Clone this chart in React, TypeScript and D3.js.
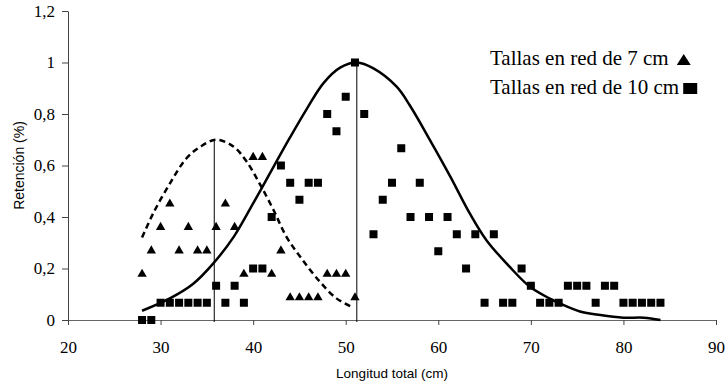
import { useEffect, useRef } from 'react'
import * as d3 from 'd3'

// Tallas en red de 7 cm (triangles)
const LEN_7 = [28, 29, 30, 31, 32, 33, 34, 35, 36, 37, 38, 39, 40, 41, 42, 43, 44, 45, 46, 47, 48, 49, 50, 51]
const RET_7 = [0.182, 0.273, 0.364, 0.455, 0.273, 0.364, 0.273, 0.273, 0.364, 0.455, 0.364, 0.182, 0.636, 0.636, 0.182, 0.273, 0.091, 0.091, 0.091, 0.091, 0.182, 0.182, 0.182, 0.091]

// Tallas en red de 10 cm (squares)
const LEN_10 = [28, 29, 30, 31, 32, 33, 34, 35, 36, 37, 38, 39, 40, 41, 42, 43, 44, 45, 46, 47, 48, 49, 50, 51, 52, 53, 54, 55, 56, 57, 58, 59, 60, 61, 62, 63, 64, 65, 66, 67, 68, 69, 70, 71, 72, 73, 74, 75, 76, 77, 78, 79, 80, 81, 82, 83, 84]
const RET_10 = [0, 0, 0.067, 0.067, 0.067, 0.067, 0.067, 0.067, 0.133, 0.067, 0.133, 0.067, 0.2, 0.2, 0.4, 0.6, 0.533, 0.467, 0.533, 0.533, 0.8, 0.733, 0.867, 1, 0.8, 0.333, 0.467, 0.533, 0.667, 0.4, 0.533, 0.4, 0.267, 0.4, 0.333, 0.2, 0.333, 0.067, 0.333, 0.067, 0.067, 0.2, 0.133, 0.067, 0.067, 0.067, 0.133, 0.133, 0.133, 0.067, 0.133, 0.133, 0.067, 0.067, 0.067, 0.067, 0.067]

// fitted selectivity curves
const CURVE_7_X = [28.0, 29.2, 31.0, 32.8, 34.3, 36.0, 37.9, 39.3, 40.7, 42.2, 43.6, 45.2, 47.2, 49.0, 50.6]
const CURVE_7_Y = [0.32, 0.414, 0.53, 0.628, 0.673, 0.70, 0.673, 0.615, 0.53, 0.427, 0.323, 0.24, 0.149, 0.084, 0.052]
const CURVE_10_X = [28.0, 31.0, 33.5, 35.7, 37.9, 40.0, 42.2, 44.0, 45.8, 47.6, 49.4, 51.2, 53.0, 55.5, 56.9, 59.1, 61.3, 63.4, 65.2, 67.7, 69.9, 72.0, 73.1, 75.3, 77.5, 80.0, 82.2, 84.0]
const CURVE_10_Y = [0.036, 0.084, 0.14, 0.22, 0.323, 0.453, 0.595, 0.71, 0.82, 0.92, 0.98, 1.0, 0.977, 0.906, 0.835, 0.699, 0.557, 0.414, 0.31, 0.207, 0.129, 0.084, 0.065, 0.033, 0.019, 0.009, 0.009, 0.0]

// optimum lengths (vertical markers)
const OPT_X = [35.8, 51.2]
const OPT_Y = [0.70, 1.0]

const X_TICKS = [20, 30, 40, 50, 60, 70, 80, 90]
const Y_TICKS = [0, 0.2, 0.4, 0.6, 0.8, 1, 1.2]
const LEGEND = ['Tallas en red de 7 cm', 'Tallas en red de 10 cm']

const SERIF = '"Liberation Serif", "Times New Roman", serif'
const SANS = '"Liberation Sans", Arial, sans-serif'

export default function App() {
  const svgRef = useRef<SVGSVGElement>(null)

  useEffect(() => {
    if (!svgRef.current) return
    const svg = d3.select(svgRef.current)
    svg.selectAll('*').remove()

    const x = d3.scaleLinear().domain([20, 90]).range([68, 716])
    const y = d3.scaleLinear().domain([0, 1.2]).range([320, 11])
    const fmt = (v: number) => String(v).replace('.', ',')

    // axes
    const xAxis = svg.append('g')
      .attr('transform', `translate(0,${y(0)})`)
      .call(d3.axisBottom(x).tickValues(X_TICKS).tickSize(5).tickSizeOuter(0).tickPadding(16))
    xAxis.attr('font-family', SERIF).attr('font-size', 17)
    xAxis.select('.domain').attr('stroke', '#666')
    xAxis.selectAll('line').attr('stroke', '#444')
    xAxis.selectAll('text')
      .style('font-family', SERIF).style('font-size', '17px').attr('fill', '#000')

    const yAxis = svg.append('g')
      .attr('transform', `translate(${x(20)},0)`)
      .call(d3.axisLeft(y).tickValues(Y_TICKS).tickFormat((d) => fmt(d as number)).tickSize(6).tickSizeOuter(0).tickPadding(7))
    yAxis.attr('font-family', SERIF).attr('font-size', 17)
    yAxis.select('.domain').attr('stroke', '#444')
    yAxis.selectAll('line').attr('stroke', '#444')
    yAxis.selectAll('text')
      .style('font-family', SERIF).style('font-size', '17px').attr('fill', '#000')

    // axis titles
    svg.append('text')
      .attr('x', (x(20) + x(90)) / 2)
      .attr('y', 378)
      .attr('text-anchor', 'middle')
      .attr('font-family', SANS).attr('font-size', 13.5)
      .text('Longitud total (cm)')

    svg.append('text')
      .attr('transform', `translate(24,${(y(0) + y(1.2)) / 2}) rotate(-90)`)
      .attr('text-anchor', 'middle')
      .attr('font-family', SANS).attr('font-size', 14)
      .text('Retención (%)')

    // vertical optimum lines
    OPT_X.forEach((v, i) => {
      svg.append('line')
        .attr('x1', x(v)).attr('x2', x(v))
        .attr('y1', y(0) + 2).attr('y2', y(OPT_Y[i]))
        .attr('stroke', '#000').attr('stroke-width', 1)
    })

    // curves
    const line = d3.line<[number, number]>()
      .x((d) => x(d[0]))
      .y((d) => y(d[1]))
      .curve(d3.curveCatmullRom.alpha(0.5))

    svg.append('path')
      .datum(CURVE_7_X.map((v, i) => [v, CURVE_7_Y[i]] as [number, number]))
      .attr('d', line)
      .attr('fill', 'none').attr('stroke', '#000')
      .attr('stroke-width', 2.5).attr('stroke-dasharray', '6,4')

    svg.append('path')
      .datum(CURVE_10_X.map((v, i) => [v, CURVE_10_Y[i]] as [number, number]))
      .attr('d', line)
      .attr('fill', 'none').attr('stroke', '#000')
      .attr('stroke-width', 2.5)

    // markers
    const tri = d3.symbol().type(d3.symbolTriangle).size(38)
    LEN_7.forEach((v, i) => {
      svg.append('path')
        .attr('d', tri)
        .attr('transform', `translate(${x(v)},${y(RET_7[i]) + 1})`)
        .attr('fill', '#000')
    })

    LEN_10.forEach((v, i) => {
      svg.append('rect')
        .attr('x', x(v) - 4).attr('y', y(RET_10[i]) - 4)
        .attr('width', 8).attr('height', 8)
        .attr('fill', '#000')
    })

    // legend
    LEGEND.forEach((label, i) => {
      const base = i === 0 ? 65 : 94
      const t = svg.append('text')
        .attr('x', 490).attr('y', base)
        .attr('font-family', SERIF).attr('font-size', 21)
        .attr('fill', '#000')
        .text(label)
      const end = 490 + (t.node() as SVGTextElement).getComputedTextLength()
      if (i === 0) {
        const l = end + 8
        svg.append('path')
          .attr('d', `M${l},${base}L${l + 14},${base}L${l + 7},${base - 11}Z`)
          .attr('fill', '#000')
      } else {
        svg.append('rect')
          .attr('x', end + 4).attr('y', base - 11)
          .attr('width', 14).attr('height', 11)
          .attr('fill', '#000')
      }
    })
  }, [])

  return (
    <svg
      ref={svgRef}
      width={725}
      height={388}
      style={{ position: 'absolute', left: 0, top: 0, background: '#fff' }}
    />
  )
}
